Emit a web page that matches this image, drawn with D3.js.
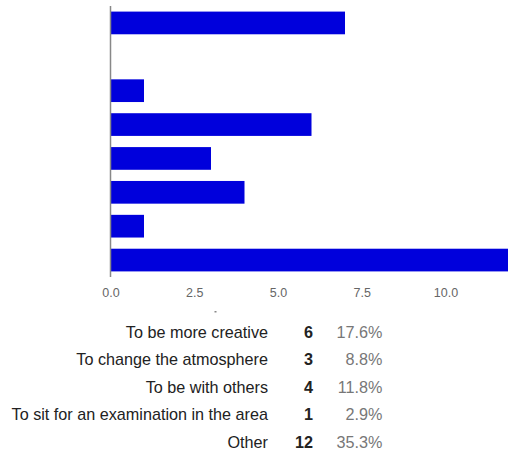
<!DOCTYPE html>
<html>
<head>
<meta charset="utf-8">
<script src="https://cdn.jsdelivr.net/npm/d3@7"></script>
<style>
  html, body { margin: 0; padding: 0; background: #fff; }
  svg { display: block; font-family: Arial, "Liberation Sans", sans-serif; }
</style>
</head>
<body>
<svg id="chart" width="508" height="456"></svg>
<script>
// Data
const categories = ["Option 1", "Option 2", "Option 3", "To be more creative", "To change the atmosphere", "To be with others", "To sit for an examination in the area", "Other"];
const values = [7, 0, 1, 6, 3, 4, 1, 12];
const tickValues = [0, 2.5, 5, 7.5, 10];
const tableLabels = ["To be more creative", "To change the atmosphere", "To be with others", "To sit for an examination in the area", "Other"];
const tableCounts = [6, 3, 4, 1, 12];
const tablePercents = ["17.6%", "8.8%", "11.8%", "2.9%", "35.3%"];

const svg = d3.select("#chart");

const x = d3.scaleLinear().domain([0, 12]).range([110.5, 512.5]);
const y = d3.scaleBand().domain(categories).range([6, 277]).paddingInner(0.33).paddingOuter(0.165);

// Bars
svg.append("g").selectAll("rect")
  .data(categories)
  .join("rect")
  .attr("x", x(0))
  .attr("y", d => y(d))
  .attr("width", (d, i) => Math.max(0, x(values[i]) - x(0)))
  .attr("height", y.bandwidth())
  .attr("fill", "#0000dc")
  .attr("stroke", (d, i) => values[i] === 0 ? "#b8b8f0" : "none")
  .attr("stroke-width", 0.6);

// X axis (tick labels only)
const xAxis = d3.axisBottom(x).tickValues(tickValues).tickFormat(d3.format(".1f")).tickSize(0).tickPadding(0);
const gx = svg.append("g").attr("transform", "translate(0,288)").call(xAxis);
gx.select(".domain").remove();
gx.selectAll("text").attr("fill", "#666").attr("font-size", "12.5px").attr("dy", "0.71em")
  .attr("font-family", "Arial, 'Liberation Sans', sans-serif");

// Y axis line
svg.append("line")
  .attr("x1", 110.5).attr("x2", 110.5)
  .attr("y1", 6).attr("y2", 277)
  .attr("stroke", "#888").attr("stroke-width", 1.5);

// tiny mark
svg.append("rect").attr("x", 214.5).attr("y", 311).attr("width", 2).attr("height", 1.5).attr("fill", "#888");

// Table
const rowY = d3.scalePoint().domain(d3.range(tableLabels.length)).range([337.5, 448]);
const tg = svg.append("g").attr("font-size", "16.2px");
tableLabels.forEach((lab, i) => {
  tg.append("text").attr("x", 268).attr("y", rowY(i)).attr("text-anchor", "end")
    .attr("fill", "#222").text(lab);
  tg.append("text").attr("x", 313).attr("y", rowY(i)).attr("text-anchor", "end")
    .attr("fill", "#222").attr("font-weight", "bold").text(tableCounts[i]);
  tg.append("text").attr("x", 382.5).attr("y", rowY(i)).attr("text-anchor", "end")
    .attr("fill", "#777").text(tablePercents[i]);
});
</script>
</body>
</html>
